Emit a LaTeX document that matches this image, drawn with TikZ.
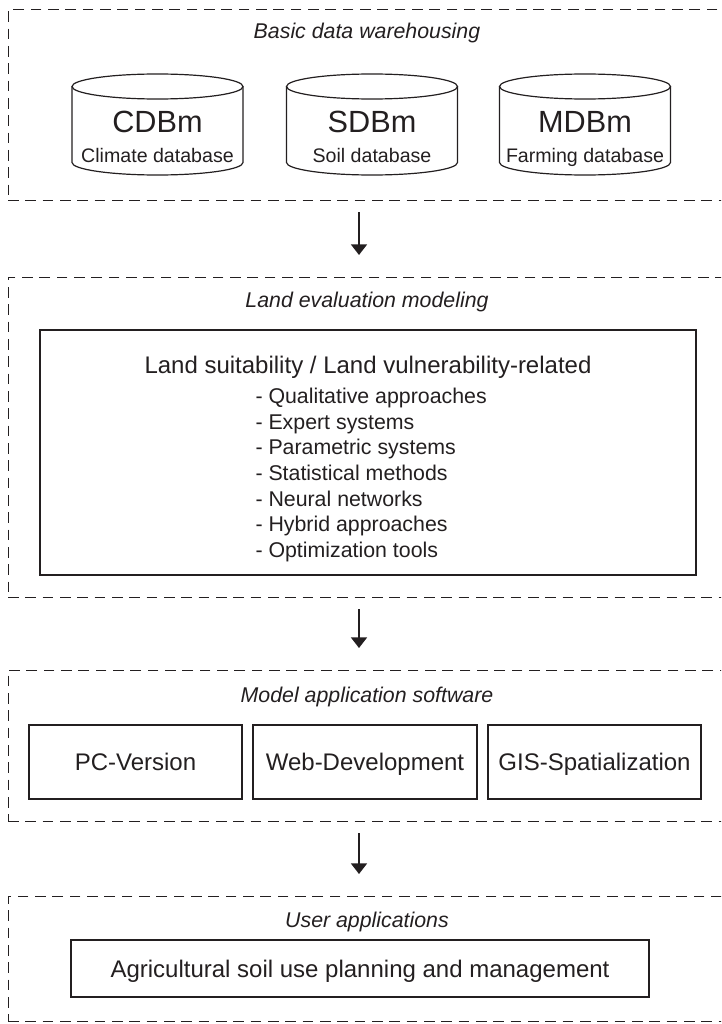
\documentclass[tikz,border=0pt]{standalone}
\usepackage{fontspec}
\setmainfont{Liberation Sans}
\usetikzlibrary{arrows.meta,positioning}

\definecolor{ink}{RGB}{35,31,32}
\tikzset{every picture/.style={line width=0.75pt}}
\tikzset{
  stage/.style={draw=ink, dash pattern=on 8pt off 5pt, minimum width=539.25pt, inner sep=0pt, outer sep=0pt},
  stagetitle/.style={text=ink, font=\fontsize{16}{19}\selectfont\itshape, inner sep=0pt},
  dbline/.style={draw=ink, line width=0.9pt},
  dblabel/.style={text=ink, align=center, font=\fontsize{14.7}{22.5}\selectfont, inner sep=0pt, text depth=0pt},
  toolbox/.style={draw=ink, line width=0.9pt, text=ink, font=\fontsize{18}{21}\selectfont, inner sep=0pt, minimum height=55.5pt, text height=12.9pt, text depth=0pt},
  flow/.style={draw=ink, line width=1.4pt, shorten <=9pt, shorten >=16.5pt, -{Triangle[width=12pt,length=8pt]}}
}

\begin{document}
\begin{tikzpicture}[x=0.75pt,y=0.75pt,yscale=-1,xscale=1]
\useasboundingbox (0,0) rectangle (721,1024);
\clip (0,0) rectangle (721,1024);

% Stage boxes (right side runs off the page)
\node[stage, minimum height=142.5pt] (warehouse) at (367.5,105) {};
\node[stage, minimum height=240pt] (modeling) at (367.5,437) {};
\node[stage, minimum height=113.25pt] (software) at (367.5,745.5) {};
\node[stage, minimum height=93.75pt] (users) at (367.5,958.5) {};

% Stage titles
\node[stagetitle] (warehousetitle) at (367,32.5) {Basic data warehousing};
\node[stagetitle] (modelingtitle) at (367,302) {Land evaluation modeling};
\node[stagetitle] (softwaretitle) at (367,697) {Model application software};
\node[stagetitle] (userstitle) at (367,922) {User applications};

% Databases (cylinders)
\draw[dbline] (157.5,86.5) ellipse [x radius=85.5, y radius=12.5];
\draw[dbline] (72,86.5) -- (72,162.5) arc [start angle=180, end angle=0, x radius=85.5, y radius=12.5] -- (243,86.5);
\node[dblabel] (cdbm) at (157.5,137) {{\fontsize{23}{23}\selectfont CDBm}\\Climate database};

\draw[dbline] (372,86.5) ellipse [x radius=85.5, y radius=12.5];
\draw[dbline] (286.5,86.5) -- (286.5,162.5) arc [start angle=180, end angle=0, x radius=85.5, y radius=12.5] -- (457.5,86.5);
\node[dblabel] (sdbm) at (372,137) {{\fontsize{23}{23}\selectfont SDBm}\\Soil database};

\draw[dbline] (585,86.5) ellipse [x radius=85.5, y radius=12.5];
\draw[dbline] (499.5,86.5) -- (499.5,162.5) arc [start angle=180, end angle=0, x radius=85.5, y radius=12.5] -- (670.5,86.5);
\node[dblabel] (mdbm) at (585,137) {{\fontsize{23}{23}\selectfont MDBm}\\Farming database};

% Land evaluation models
\node[draw=ink, line width=0.9pt, minimum width=492pt, minimum height=183.75pt, inner sep=0pt] (landbox) at (368,452.5) {};
\node[text=ink, font=\fontsize{18}{21}\selectfont, inner sep=0pt] (landhead) at (368,367) {Land suitability / Land vulnerability-related};
\node[text=ink, font=\fontsize{16}{19.2}\selectfont, align=left, anchor=west, inner sep=0pt] (landlist) at (255,475)
  {- Qualitative approaches\\- Expert systems\\- Parametric systems\\- Statistical methods\\- Neural networks\\- Hybrid approaches\\- Optimization tools};

% Software
\node[toolbox, minimum width=159.75pt] (pcversion) at (135.5,762) {PC-Version};
\node[toolbox, minimum width=168pt] (webdev) at (365,762) {Web-Development};
\node[toolbox, minimum width=159.75pt] (gisspat) at (594.5,762) {GIS-Spatialization};

% User applications
\node[toolbox, minimum width=433.5pt, minimum height=42.75pt] (planning) at (360,968.5) {Agricultural soil use planning and management};

% Flow between stages
\coordinate (spine) at (359,0);
\draw[flow] (warehouse.south -| spine) -- (modeling.north -| spine);
\draw[flow] (modeling.south -| spine) -- (software.north -| spine);
\draw[flow] (software.south -| spine) -- (users.north -| spine);

\end{tikzpicture}
\end{document}
